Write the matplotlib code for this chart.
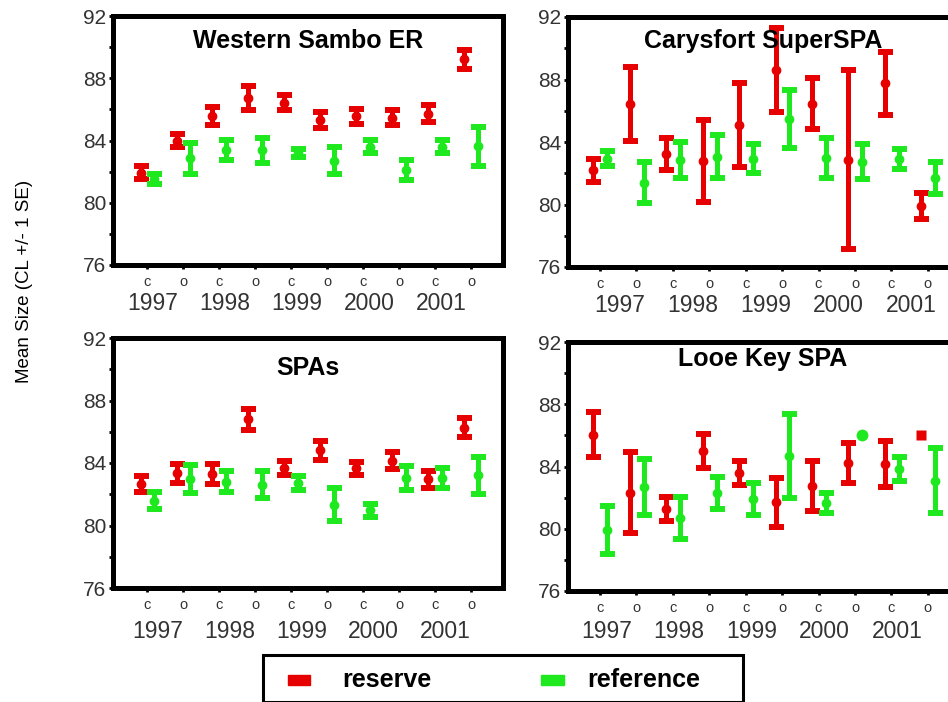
import numpy as np
import matplotlib
matplotlib.use("Agg")
import matplotlib.pyplot as plt
from matplotlib.patches import Rectangle
from matplotlib.transforms import blended_transform_factory

plt.rcParams['font.family'] = ['Liberation Sans', 'DejaVu Sans']

years = ["1997", "1998", "1999", "2000", "2001"]
tick_labels = ["c", "o"] * 5

# mean and SE for each panel, order: 1997c, 1997o, 1998c, ... 2001o
titles = ["Western Sambo ER", "Carysfort SuperSPA", "SPAs", "Looe Key SPA"]

wser_res = [81.94, 83.98, 85.58, 86.72, 86.43, 85.34, 85.57, 85.46, 85.73, 89.23]
wser_res_se = [0.43, 0.42, 0.59, 0.77, 0.48, 0.51, 0.48, 0.47, 0.53, 0.61]
wser_ref = [81.54, 82.85, 83.39, 83.36, 83.18, 82.71, 83.60, 82.10, 83.60, 83.62]
wser_ref_se = [0.33, 1.01, 0.64, 0.82, 0.26, 0.87, 0.43, 0.64, 0.43, 1.26]

cary_res = [82.20, 86.43, 83.23, 82.77, 85.10, 88.60, 86.46, 82.88, 87.76, 79.90]
cary_res_se = [0.73, 2.34, 1.03, 2.61, 2.69, 2.68, 1.64, 5.71, 2.01, 0.81]
cary_ref = [82.93, 81.39, 82.82, 83.07, 82.93, 85.47, 82.95, 82.73, 82.90, 81.69]
cary_ref_se = [0.47, 1.30, 1.15, 1.40, 0.94, 1.83, 1.28, 1.13, 0.64, 1.00]

spas_res = [82.65, 83.34, 83.28, 86.80, 83.67, 84.81, 83.65, 84.16, 82.95, 86.26]
spas_res_se = [0.51, 0.60, 0.65, 0.67, 0.46, 0.61, 0.44, 0.56, 0.53, 0.62]
spas_ref = [81.60, 82.96, 82.81, 82.61, 82.73, 81.34, 80.97, 83.05, 83.04, 83.22]
spas_ref_se = [0.54, 0.91, 0.67, 0.88, 0.46, 1.07, 0.42, 0.78, 0.62, 1.19]

looe_res = [86.03, 82.31, 81.27, 85.00, 83.59, 81.69, 82.74, 84.24, 84.18, 86.00]
looe_res_se = [1.44, 2.61, 0.80, 1.10, 0.78, 1.60, 1.62, 1.30, 1.48, np.nan]
looe_ref = [79.93, 82.69, 80.70, 82.31, 81.93, 84.67, 81.64, 86.00, 83.84, 83.08]
looe_ref_se = [1.55, 1.79, 1.36, 1.04, 1.03, 2.71, 0.65, np.nan, 0.80, 2.09]

panels = [
    (wser_res, wser_res_se, wser_ref, wser_ref_se),
    (cary_res, cary_res_se, cary_ref, cary_ref_se),
    (spas_res, spas_res_se, spas_ref, spas_ref_se),
    (looe_res, looe_res_se, looe_ref, looe_ref_se),
]

RED = "#e60000"
GREEN = "#1ee81e"
TXT = "#333333"

W, H = 948, 702
fig = plt.figure(figsize=(W / 100, H / 100), dpi=100)

# axes boxes in pixels: left, top, right, bottom
boxes = [(113, 16, 503, 265), (568, 17, 958, 267),
         (113, 338, 503, 588), (568, 342, 958, 591)]
xlims = [(0.056, 10.89), (0.12, 10.83), (0.056, 10.89), (0.12, 10.83)]
title_dy = [25, 24, 30, 17]
year_dx = [0.17, 0.55, 0.3, 0.17]
year_dy = [39, 38, 44, 41]

x = np.arange(1, 11)
for i, (res, res_se, ref, ref_se) in enumerate(panels):
    l, t, r, b = boxes[i]
    ax = fig.add_axes([l / W, 1 - b / H, (r - l) / W, (b - t) / H])
    res = np.array(res); res_se = np.array(res_se)
    ref = np.array(ref); ref_se = np.array(ref_se)

    for xs, m, se, col, single in [(x - 0.18, res, res_se, RED, 's'),
                                   (x + 0.2, ref, ref_se, GREEN, 'o')]:
        ok = ~np.isnan(se)
        ax.errorbar(xs[ok], m[ok], yerr=se[ok], fmt='o', color=col, ms=6,
                    elinewidth=3.6, capsize=5.4, capthick=4.3, zorder=3)
        if (~ok).any():
            ax.plot(xs[~ok], m[~ok], single, color=col,
                    ms=7.5 if single == 's' else 8.5, mec='none', zorder=3)

    ax.set_ylim(76, 92)
    ax.set_xlim(*xlims[i])
    ax.set_yticks([76, 80, 84, 88, 92])
    ax.set_yticks([78, 82, 86, 90], minor=True)
    ax.set_xticks(x)
    ax.set_xticklabels(tick_labels, fontsize=10.5, color=TXT)
    ax.tick_params(axis='y', labelsize=15, labelcolor=TXT, length=3, width=2, pad=2)
    ax.tick_params(axis='y', which='minor', length=3, width=2)
    ax.tick_params(axis='x', length=3, width=2, pad=4)
    for s in ax.spines.values():
        s.set_linewidth(3.6)

    ax.text(0.5, 1 - title_dy[i] / (b - t), titles[i], transform=ax.transAxes,
            ha='center', va='center', fontsize=18, fontweight='bold')

    tr = blended_transform_factory(ax.transData, ax.transAxes)
    for k, yr in enumerate(years):
        ax.text(2 * k + 1 + year_dx[i], -year_dy[i] / (b - t), yr, transform=tr,
                ha='center', va='center', fontsize=16.5, color=TXT)

fig.text(25 / W, 1 - 281 / H, "Mean Size (CL +/- 1 SE)", rotation=90,
         ha='center', va='center', fontsize=13.5)

# legend box
fig.patches.append(Rectangle((263 / W, 0), (743 - 263) / W, (702 - 655) / H,
                             transform=fig.transFigure, fill=False,
                             edgecolor='black', linewidth=2.2))
fig.patches.append(Rectangle((288 / W, 1 - 685 / H), 22 / W, 10 / H,
                             transform=fig.transFigure, color=RED))
fig.patches.append(Rectangle((541 / W, 1 - 685 / H), 23 / W, 10 / H,
                             transform=fig.transFigure, color=GREEN))
fig.text(342 / W, 1 - 680 / H, "reserve", ha='left', va='center',
         fontsize=18, fontweight='bold')
fig.text(587 / W, 1 - 680 / H, "reference", ha='left', va='center',
         fontsize=18, fontweight='bold')

fig.savefig("out.png", dpi=100)
